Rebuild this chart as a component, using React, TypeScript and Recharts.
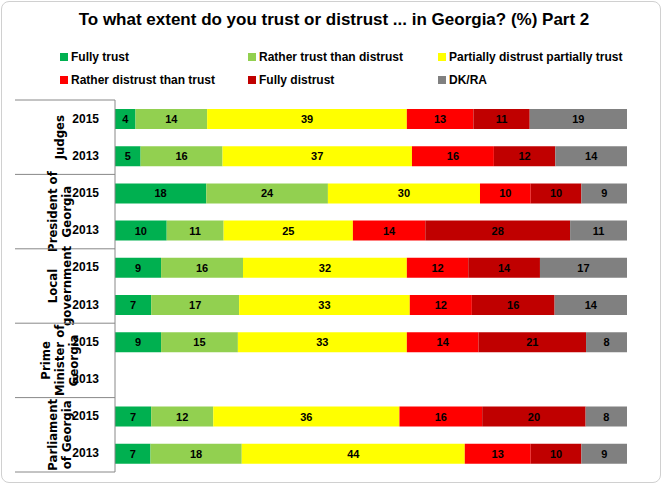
import React from "react";
import { BarChart, Bar, XAxis, YAxis, LabelList } from "recharts";

const rows = ["Judges|2015", "Judges|2013", "President|2015", "President|2013", "Local|2015", "Local|2013", "Prime|2015", "Prime|2013", "Parliament|2015", "Parliament|2013"];
const fullyTrust = [4, 5, 18, 10, 9, 7, 9, null, 7, 7];
const ratherTrust = [14, 16, 24, 11, 16, 17, 15, null, 12, 18];
const partially = [39, 37, 30, 25, 32, 33, 33, null, 36, 44];
const ratherDistrust = [13, 16, 10, 14, 12, 12, 14, null, 16, 13];
const fullyDistrust = [11, 12, 10, 28, 14, 16, 21, null, 20, 10];
const dkra = [19, 14, 9, 11, 17, 14, 8, null, 8, 9];
const groupLabels: Record<string, string[]> = {
  Judges: ["Judges"],
  President: ["President of", "Georgia"],
  Local: ["Local", "government"],
  Prime: ["Prime", "Minister of", "Georgia"],
  Parliament: ["Parliament", "of Georgia"],
};
const series = [
  { key: "ft", name: "Fully trust", color: "#00b050", vals: fullyTrust },
  { key: "rt", name: "Rather trust than distrust", color: "#92d050", vals: ratherTrust },
  { key: "pd", name: "Partially distrust partially trust", color: "#ffff00", vals: partially },
  { key: "rd", name: "Rather distrust than trust", color: "#ff0000", vals: ratherDistrust },
  { key: "fd", name: "Fully distrust", color: "#c00000", vals: fullyDistrust },
  { key: "dk", name: "DK/RA", color: "#808080", vals: dkra },
];
const data = rows.map((r, i) => {
  const o: any = { row: r };
  series.forEach((s) => (o[s.key] = s.vals[i]));
  return o;
});
const font = "'Liberation Sans', Arial, sans-serif";
const narrow = "'Liberation Sans Narrow', 'DejaVu Sans Condensed', 'Liberation Sans', sans-serif";
const BAND = 37.2;

const Tick = (props: any) => {
  const { x, y, payload, index } = props;
  const [g, yr] = String(payload.value).split("|");
  const els: any[] = [
    <text key="y" x={x - 8} y={y} dy={4} textAnchor="end" fontSize={12} fontWeight="bold" fill="#000" fontFamily={font}>{yr}</text>,
  ];
  if (index % 2 === 0) {
    const lines = groupLabels[g];
    const cy = y + BAND / 2;
    const cx = 60;
    els.push(<line key="t" x1={15} x2={115} y1={y - BAND / 2} y2={y - BAND / 2} stroke="#888" />);
    els.push(
      <text key="g" transform={`translate(${cx},${cy}) rotate(-90)`} textAnchor="middle" fontSize={13} fontWeight="bold" fill="#000" fontFamily={narrow}>
        {lines.map((l, k) => (
          <tspan key={k} x={0} dy={k === 0 ? 4 - ((lines.length - 1) * 14) / 2 : 14}>{l}</tspan>
        ))}
      </text>
    );
    if (index === rows.length - 2) {
      els.push(<line key="b" x1={15} x2={115} y1={y + BAND * 1.5} y2={y + BAND * 1.5} stroke="#888" />);
    }
  }
  return <g>{els}</g>;
};

export default function App() {
  return (
    <div style={{ position: "absolute", left: 0, top: 0, width: 668, height: 487, background: "#fff", fontFamily: font }}>
      <div style={{ position: "absolute", left: 1, top: 1, width: 658, height: 480, border: "1px solid #d0d0d0", borderRadius: 8 }} />
      <div style={{ position: "absolute", top: 10, left: 0, width: 668, textAlign: "center", fontSize: 17, fontWeight: "bold", color: "#000" }}>
        To what extent do you trust or distrust ... in Georgia? (%) Part 2
      </div>
      {series.map((s, i) => (
        <div key={s.key} style={{ position: "absolute", left: [60, 248, 438][i % 3], top: i < 3 ? 50 : 73, fontSize: 12, fontWeight: "bold", display: "flex", alignItems: "center" }}>
          <span style={{ width: 8, height: 8, background: s.color, display: "inline-block", marginRight: 3 }} />
          {s.name}
        </div>
      ))}
      <div style={{ position: "absolute", left: 0, top: 0 }}>
        <BarChart width={668} height={487} data={data} layout="vertical" stackOffset="expand" margin={{ top: 100, right: 41, bottom: 15, left: 15 }} barSize={20}>
          <XAxis type="number" domain={[0, 1]} hide />
          <YAxis type="category" dataKey="row" width={100} tick={<Tick />} tickLine={false} axisLine={{ stroke: "#888" }} interval={0} />
          {series.map((s) => (
            <Bar key={s.key} dataKey={s.key} stackId="a" fill={s.color} isAnimationActive={false}>
              <LabelList dataKey={s.key} position="center" fontSize={11} fontWeight="bold" fill="#000" fontFamily={font} />
            </Bar>
          ))}
        </BarChart>
      </div>
    </div>
  );
}
